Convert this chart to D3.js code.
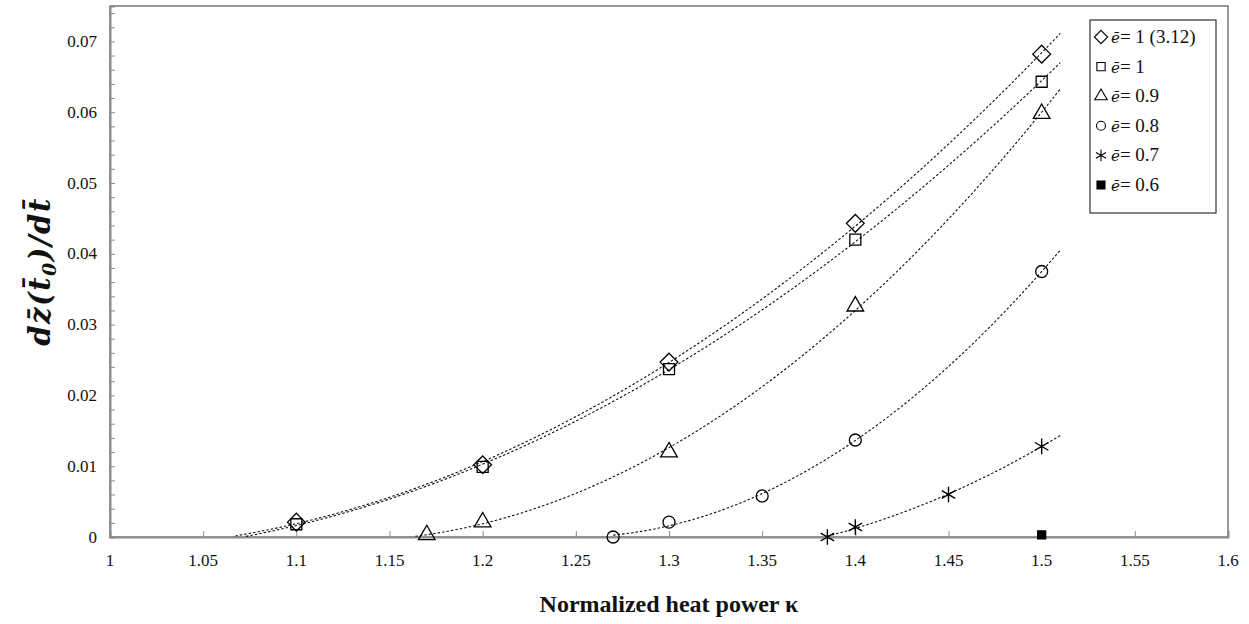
<!DOCTYPE html>
<html>
<head>
<meta charset="utf-8">
<script src="https://cdn.jsdelivr.net/npm/d3@7"></script>
<style>
  body { margin: 0; background: #fff; }
</style>
</head>
<body>
<svg id="chart" width="1249" height="624"></svg>
<script>
// values
var seriesLabels = ["1 (3.12)", "1", "0.9", "0.8", "0.7", "0.6"];
var seriesSymbols = ["diamond", "square", "triangle", "circle", "asterisk", "filled"];

var kappaE1b = [1.1, 1.2, 1.3, 1.4, 1.5];
var rateE1b  = [0.0021, 0.0102, 0.0247, 0.0443, 0.0682];
var kappaE1  = [1.1, 1.2, 1.3, 1.4, 1.5];
var rateE1   = [0.0018, 0.0099, 0.0237, 0.0420, 0.0643];
var kappaE09 = [1.17, 1.2, 1.3, 1.4, 1.5];
var rateE09  = [0.0003, 0.0021, 0.0120, 0.0326, 0.0598];
var kappaE08 = [1.27, 1.3, 1.35, 1.4, 1.5];
var rateE08  = [0.0000, 0.0021, 0.0058, 0.0137, 0.0375];
var kappaE07 = [1.385, 1.4, 1.45, 1.5];
var rateE07  = [0.0000, 0.0014, 0.0060, 0.0128];
var kappaE06 = [1.5];
var rateE06  = [0.0003];

// trendline start per series, end is shared
var trendStart = [1.05, 1.05, 1.12, 1.27, 1.385, null];
var trendEnd = 1.51;

var xTicks = d3.range(0, 13).map(function(i){ return +(1 + i * 0.05).toFixed(2); });
var yTicks = [0, 0.01, 0.02, 0.03, 0.04, 0.05, 0.06, 0.07];

var kappas = [kappaE1b, kappaE1, kappaE09, kappaE08, kappaE07, kappaE06];
var rates  = [rateE1b, rateE1, rateE09, rateE08, rateE07, rateE06];

var SERIF = '"Liberation Serif", "Times New Roman", serif';

var margin = {left: 110, right: 21, top: 6, bottom: 87};
var W = 1249, H = 624;

var svg = d3.select('#chart');

var x = d3.scaleLinear().domain([1, 1.6]).range([margin.left, W - margin.right]);
var y = d3.scaleLinear().domain([0, 0.075]).range([H - margin.bottom, margin.top]);

// least squares quadratic, like the spreadsheet trendline
function polyfit2(xs, ys){
  var s = [0,0,0,0,0], t = [0,0,0];
  xs.forEach(function(xv, i){
    var p = 1;
    for (var k = 0; k < 5; k++){ s[k] += p; if (k < 3) t[k] += p * ys[i]; p *= xv; }
  });
  var A = [[s[0], s[1], s[2], t[0]], [s[1], s[2], s[3], t[1]], [s[2], s[3], s[4], t[2]]];
  for (var c = 0; c < 3; c++){
    for (var r = c + 1; r < 3; r++){
      var f = A[r][c] / A[c][c];
      for (var k = c; k < 4; k++) A[r][k] -= f * A[c][k];
    }
  }
  var b = [0,0,0];
  for (var r = 2; r >= 0; r--){
    var v = A[r][3];
    for (var k = r + 1; k < 3; k++) v -= A[r][k] * b[k];
    b[r] = v / A[r][r];
  }
  return function(xv){ return b[0] + b[1] * xv + b[2] * xv * xv; };
}

svg.append('clipPath').attr('id', 'plotclip')
  .append('rect')
  .attr('x', x(1)).attr('y', y(0.075))
  .attr('width', x(1.6) - x(1)).attr('height', y(0) - y(0.075));

// frame
svg.append('rect')
  .attr('x', x(1)).attr('y', y(0.075))
  .attr('width', x(1.6) - x(1)).attr('height', y(0) - y(0.075))
  .attr('fill', 'none').attr('stroke', '#555').attr('stroke-width', 1.2);

// y axis with inward ticks
var yAxisG = svg.append('g').attr('transform', 'translate(' + x(1) + ',0)');
yAxisG.call(d3.axisRight(y).tickValues(d3.range(0, 0.0751, 0.002)).tickSize(5).tickFormat(''));
yAxisG.select('.domain').attr('stroke', '#8c8c8c').attr('stroke-width', 2);
yAxisG.selectAll('.tick line').attr('stroke', '#8c8c8c');

yTicks.forEach(function(v){
  svg.append('text')
    .style('font-family', SERIF)
    .attr('x', x(1) - 13).attr('y', y(v) + 5.5)
    .attr('text-anchor', 'end').attr('font-size', 17).attr('fill', '#111')
    .text(v === 0 ? '0' : d3.format('.2f')(v));
});

// x axis with inward ticks
var xAxisG = svg.append('g').attr('transform', 'translate(0,' + y(0) + ')');
xAxisG.call(d3.axisTop(x).tickValues(xTicks).tickSize(6).tickFormat(''));
xAxisG.select('.domain').attr('stroke', '#8c8c8c').attr('stroke-width', 2);
xAxisG.selectAll('.tick line').attr('stroke', '#8c8c8c');

xTicks.forEach(function(v){
  svg.append('text')
    .style('font-family', SERIF)
    .attr('x', x(v)).attr('y', y(0) + 29)
    .attr('text-anchor', 'middle').attr('font-size', 17).attr('fill', '#111')
    .text(d3.format('~g')(v));
});

// trendlines
var line = d3.line().x(function(d){ return x(d[0]); }).y(function(d){ return y(d[1]); });
var trendG = svg.append('g').attr('clip-path', 'url(#plotclip)');
kappas.forEach(function(ks, i){
  if (trendStart[i] === null) return;
  var f = polyfit2(ks, rates[i]);
  var pts = d3.range(0, 81).map(function(j){
    var xv = trendStart[i] + (trendEnd - trendStart[i]) * j / 80;
    return [xv, f(xv)];
  }).filter(function(d){ return d[1] >= 0; });
  trendG.append('path')
    .attr('d', line(pts))
    .attr('fill', 'none').attr('stroke', '#111').attr('stroke-width', 1.1)
    .attr('stroke-dasharray', '2.5,2');
});

// marker shapes
function markerPath(kind, scale){
  var types = {
    diamond: [d3.symbolDiamond2, 200],
    square: [d3.symbolSquare, 121],
    triangle: [d3.symbolTriangle, 120],
    circle: [d3.symbolCircle, 113],
    asterisk: [d3.symbolAsterisk, 170],
    filled: [d3.symbolSquare, 64]
  };
  var t = types[kind];
  return d3.symbol().type(t[0]).size(t[1] * scale * scale)();
}

kappas.forEach(function(ks, i){
  var kind = seriesSymbols[i];
  svg.append('g').selectAll('path')
    .data(ks.map(function(k, j){ return [k, rates[i][j]]; }))
    .enter().append('path')
    .attr('transform', function(d){ return 'translate(' + x(d[0]) + ',' + y(d[1]) + ')'; })
    .attr('d', markerPath(kind, 1))
    .attr('fill', kind === 'filled' ? '#000' : 'none')
    .attr('stroke', '#000').attr('stroke-width', kind === 'asterisk' ? 1.4 : 1.3);
});

// legend
var legend = svg.append('g');
legend.append('rect')
  .attr('x', 1090).attr('y', 20).attr('width', 126).attr('height', 193)
  .attr('fill', '#fff').attr('stroke', '#333').attr('stroke-width', 1.2);
seriesLabels.forEach(function(lab, i){
  var cy = 37 + i * 29.6;
  var kind = seriesSymbols[i];
  legend.append('path')
    .attr('transform', 'translate(1101,' + cy + ')')
    .attr('d', markerPath(kind, kind === 'filled' ? 1 : 0.75))
    .attr('fill', kind === 'filled' ? '#000' : 'none')
    .attr('stroke', '#000').attr('stroke-width', 1.1);
  var t = legend.append('text')
    .style('font-family', SERIF)
    .attr('x', 1111).attr('y', cy + 6)
    .attr('font-size', 19).attr('fill', '#111');
  t.append('tspan').attr('font-style', 'italic').style('font-family', '"DejaVu Serif", serif').attr('font-size', 15).text('e\u0304');
  t.append('tspan').text('= ' + lab);
});

// axis titles
svg.append('text')
  .style('font-family', SERIF)
  .attr('x', (x(1) + x(1.6)) / 2).attr('y', 612)
  .attr('text-anchor', 'middle').attr('font-size', 24).attr('font-weight', 'bold').attr('fill', '#111')
  .text('Normalized heat power \u03ba');

var yt = svg.append('text')
  .style('font-family', '"DejaVu Serif", serif')
  .attr('transform', 'translate(50,' + ((y(0) + y(0.075)) / 2) + ') rotate(-90)')
  .attr('text-anchor', 'middle').attr('font-size', 29).attr('font-weight', 'bold')
  .attr('font-style', 'italic').attr('letter-spacing', 1.5).attr('fill', '#111');
yt.append('tspan').text('dz\u0304(t\u0304');
yt.append('tspan').attr('font-size', 19).attr('dy', 6).text('0');
yt.append('tspan').attr('dy', -6).text(')/dt\u0304');
</script>
</body>
</html>
